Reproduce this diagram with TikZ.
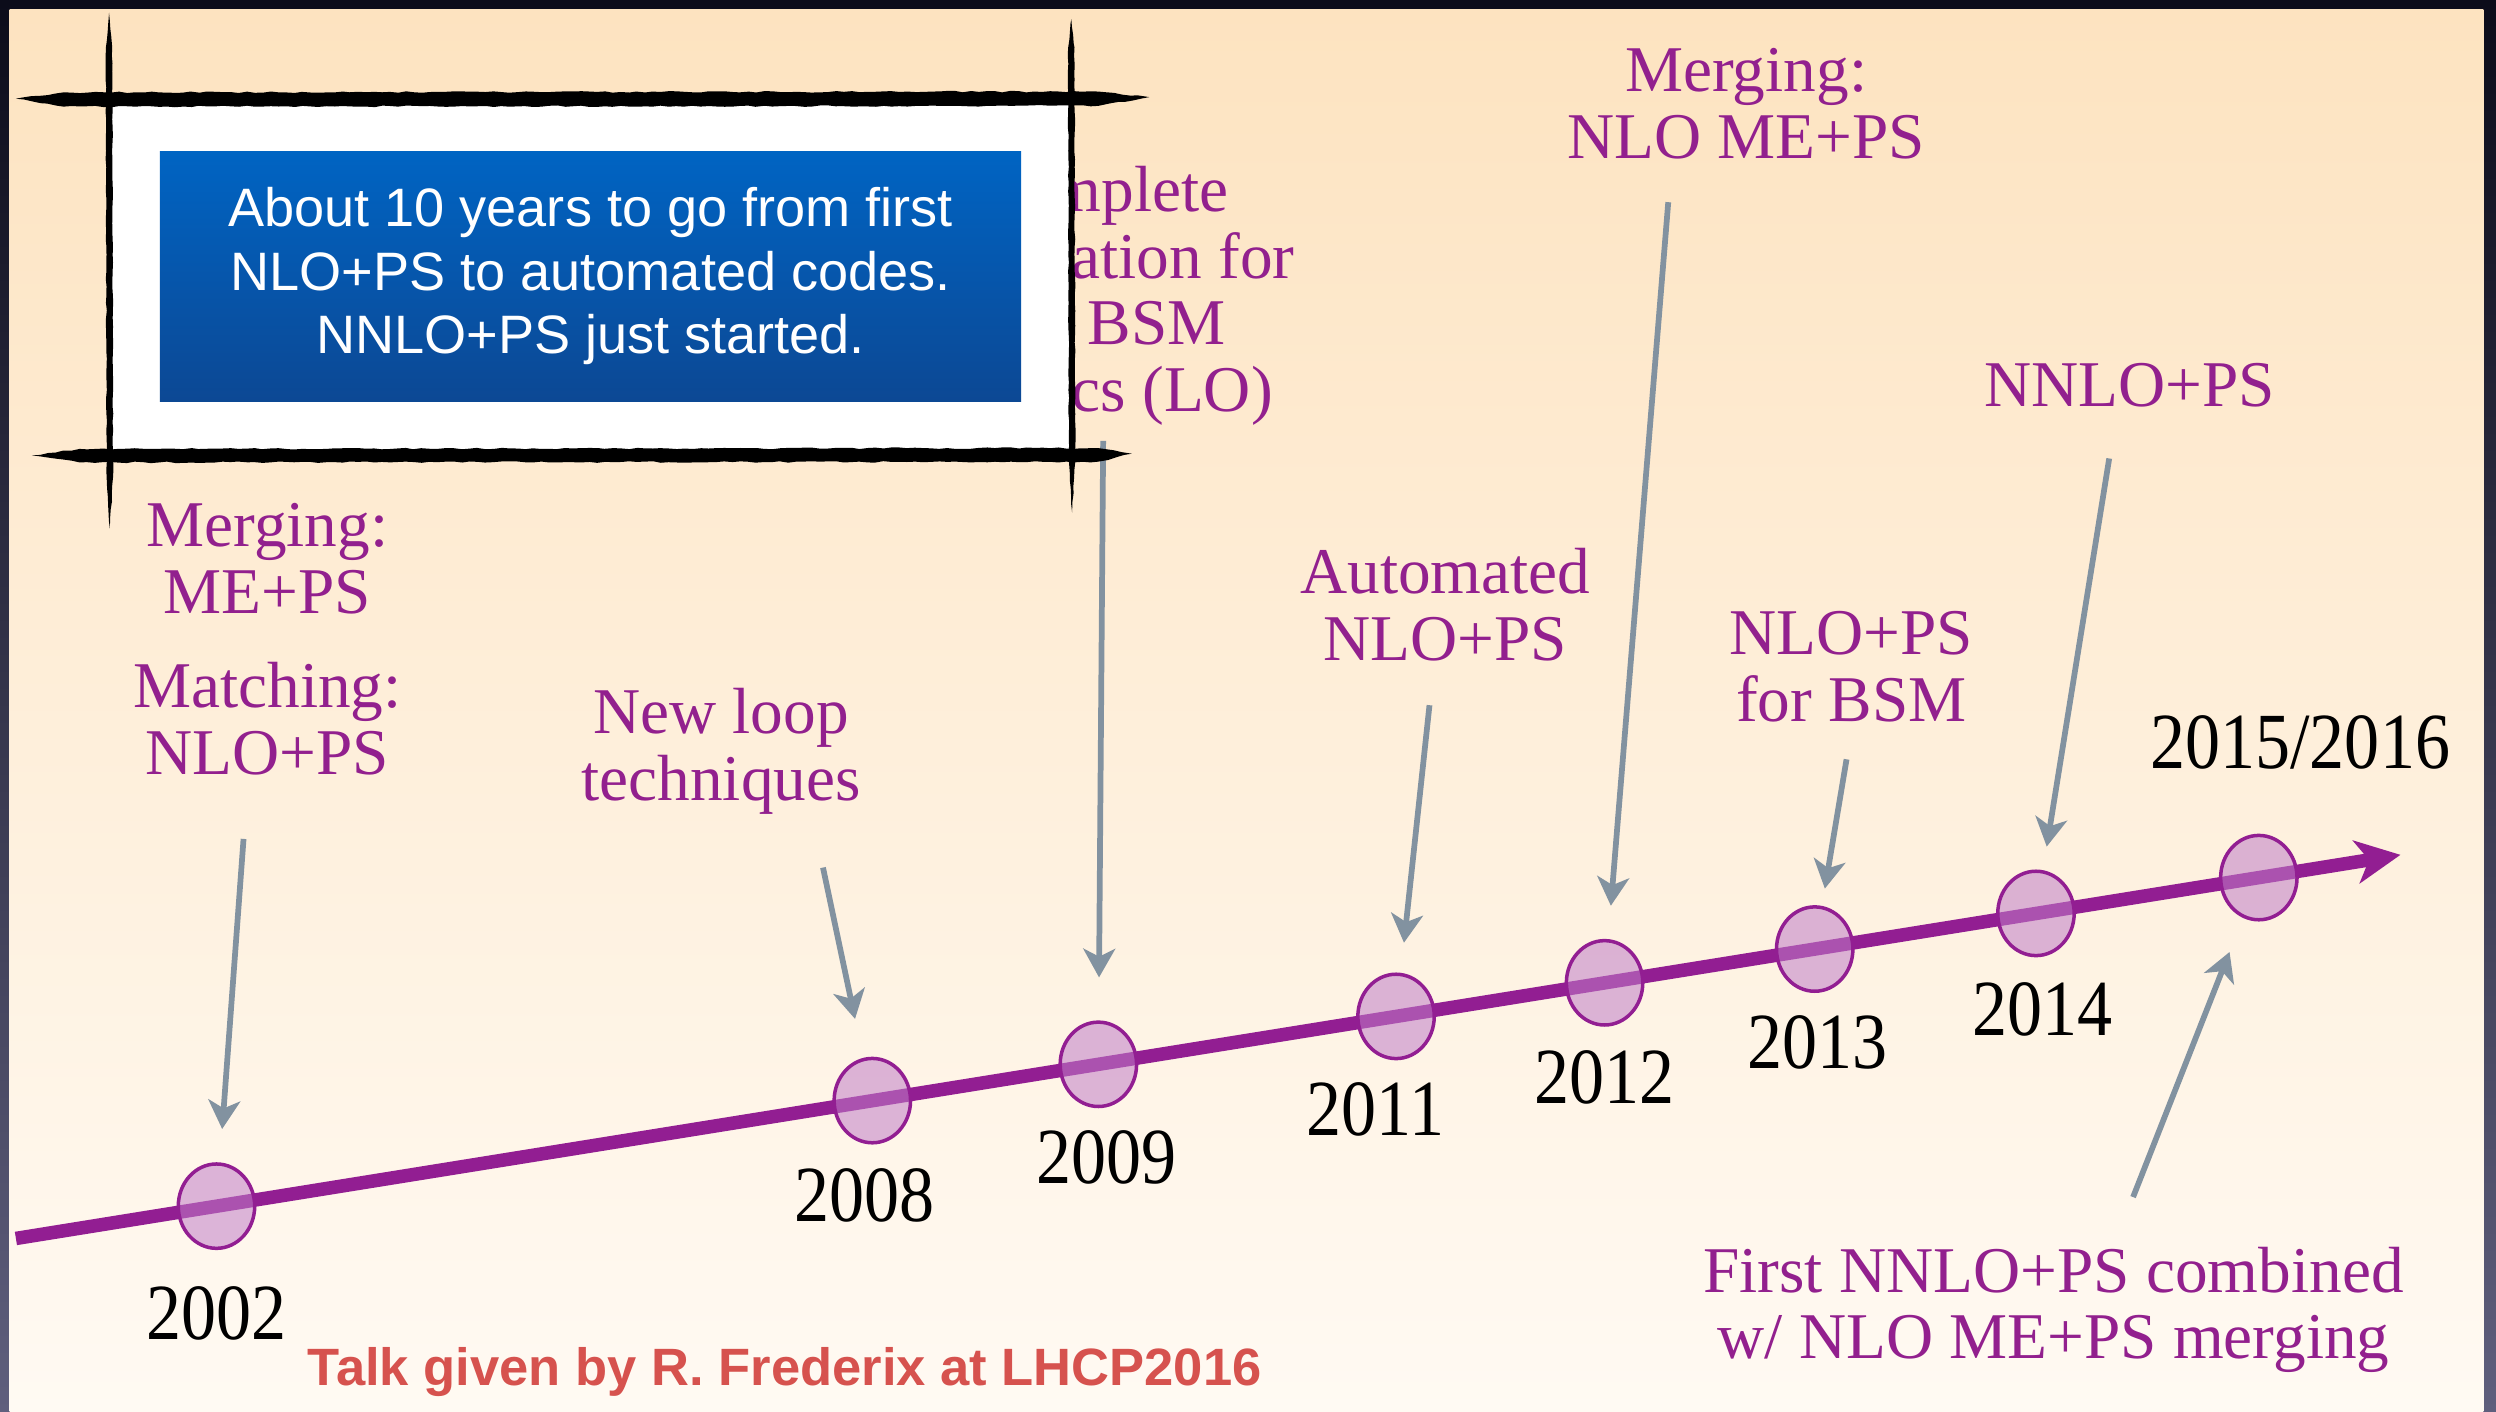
\documentclass[tikz,border=0pt]{standalone}
\usepackage{fontspec}
\setmainfont{Liberation Serif}
\newfontfamily\sansf{Liberation Sans}
\newfontfamily\yearf[FakeStretch=0.88]{Liberation Serif}
\usetikzlibrary{arrows.meta,shapes.geometric,decorations.pathmorphing}
\definecolor{purp}{RGB}{146,32,142}
\definecolor{tlpurp}{RGB}{146,30,146}
\definecolor{circfill}{RGB}{192,125,200}
\definecolor{garr}{RGB}{130,146,160}
\definecolor{peachtop}{RGB}{253,227,192}
\definecolor{peachbot}{RGB}{255,250,243}
\definecolor{bluetop}{RGB}{0,100,195}
\definecolor{bluebot}{RGB}{12,72,148}
\definecolor{redtxt}{RGB}{214,82,78}
\definecolor{darktop}{RGB}{12,12,26}
\definecolor{darkbot}{RGB}{95,95,125}
\begin{document}
\begin{tikzpicture}[x=1pt,y=-1pt,
  lbl/.style={text=purp, align=center, inner sep=0pt, anchor=north, font=\fontsize{41}{42}\selectfont},
  yr/.style={inner sep=0pt, anchor=north, font=\yearf\fontsize{50}{50}\selectfont},
  yrdot/.style={ellipse, minimum width=48pt, minimum height=53pt, inner sep=0pt, draw=tlpurp, line width=2.2pt, fill=circfill, fill opacity=0.55},
  tline/.style={draw=tlpurp, line width=8.5pt, -{Stealth[length=28pt,width=27pt,inset=8pt]}},
  garrow/.style={draw=garr, line width=3.6pt, -{Stealth[length=18pt,width=20pt,inset=5pt]}},
  brush/.style={fill=black, decorate, decoration={random steps, segment length=5pt, amplitude=0.5pt}},
  thinbrush/.style={fill=black, decorate, decoration={random steps, segment length=5pt, amplitude=0.3pt}},
  notebox/.style={rectangle, inner sep=0pt, minimum width=541pt, minimum height=157pt, top color=bluetop, bottom color=bluebot, text=white, align=center, font=\sansf\fontsize{34}{40}\selectfont}
]
\useasboundingbox (0,0) rectangle (1568,887);
% backgrounds
\shade[top color=darktop, bottom color=darkbot] (0,0) rectangle (1568,887);
\shade[top color=peachtop, bottom color=peachbot] (6,6) rectangle (1560,887);

% labels
\node[lbl] (l02m) at (168,316) {Merging:\\ME+PS};
\node[lbl] (l02) at (168,416) {Matching:\\NLO+PS};
\node[lbl] (l08) at (453,432) {New loop\\techniques};
\node[lbl] (l09) at (692,104) {Complete\\automation for\\any BSM\\physics (LO)};
\node[lbl] (l11) at (908,344) {Automated\\NLO+PS};
\node[lbl] (l12) at (1097,30) {Merging:\\NLO ME+PS};
\node[lbl] (l13) at (1163,384) {NLO+PS\\for BSM};
\node[lbl] (l14) at (1338,228) {NNLO+PS};
\node[lbl] (l15) at (1290,783) {First NNLO+PS combined\\w/ NLO ME+PS merging};

% timeline
\coordinate (tstart) at (10,778);
\coordinate (ttip) at (1508,537);
\draw[tline] (tstart) -- (ttip);

% year dots
\node[yrdot] (c02) at (136,757.7) {};
\node[yrdot] (c08) at (548,691.4) {};
\node[yrdot] (c09) at (690,668.6) {};
\node[yrdot] (c11) at (877,638.5) {};
\node[yrdot] (c12) at (1008,617.4) {};
\node[yrdot] (c13) at (1140,596.2) {};
\node[yrdot] (c14) at (1279,573.8) {};
\node[yrdot] (c15) at (1419,551.3) {};

% years
\node[yr] (y02) at (136,808) {2002};
\node[yr] (y08) at (543,734) {2008};
\node[yr] (y09) at (695,710) {2009};
\node[yr] (y11) at (864,680) {2011};
\node[yr] (y12) at (1008,660) {2012};
\node[yr] (y13) at (1142,638) {2013};
\node[yr] (y14) at (1283,617) {2014};
\node[yr] (y15) at (1445,449) {2015/2016};

% gray arrows
\coordinate (s02) at (153,527);
\coordinate (s08) at (517,545);
\coordinate (s09) at (693,277);
\coordinate (s11) at (898,443);
\coordinate (s12) at (1048,127);
\coordinate (s13) at (1160,477);
\coordinate (s14) at (1325,288);
\coordinate (s15) at (1340,752);
\draw[garrow, shorten >=21pt] (s02) -- (c02);
\draw[garrow, shorten >=25pt] (s08) -- (c08);
\draw[garrow, shorten >=27pt] (s09) -- (c09);
\draw[garrow, shorten >=19pt] (s11) -- (c11);
\draw[garrow, shorten >=21pt] (s12) -- (c12);
\draw[garrow, shorten >=11pt] (s13) -- (c13);
\draw[garrow, shorten >=15pt] (s14) -- (c14);
\draw[garrow, shorten >=23pt] (s15) -- (c15);

% credit
\node[inner sep=0pt, anchor=north, text=redtxt, font=\sansf\bfseries\fontsize{33}{33}\selectfont] (credit) at (493,846) {Talk given by R. Frederix at LHCP2016};

% note box with brushed frame
\fill[white] (70,62) rectangle (672,286);
\pgfmathsetseed{3}
\fill[brush] (10,62) -- (40,58) -- (690,57.5) -- (722,61) -- (690,66.5) -- (40,67) -- cycle;
\fill[brush] (20,286) -- (50,282) -- (690,281.5) -- (711,285) -- (690,290) -- (50,290.5) -- cycle;
\fill[thinbrush] (68.5,8) -- (70.5,30) -- (71,300) -- (69,332) -- (67,300) -- (66.5,30) -- cycle;
\fill[thinbrush] (673,12) -- (675,30) -- (675.5,290) -- (673.5,322) -- (671.5,290) -- (671,30) -- cycle;
\node[notebox] (note) at (371,173.5) {About 10 years to go from first\\NLO+PS to automated codes.\\NNLO+PS just started.};
\end{tikzpicture}
\end{document}
